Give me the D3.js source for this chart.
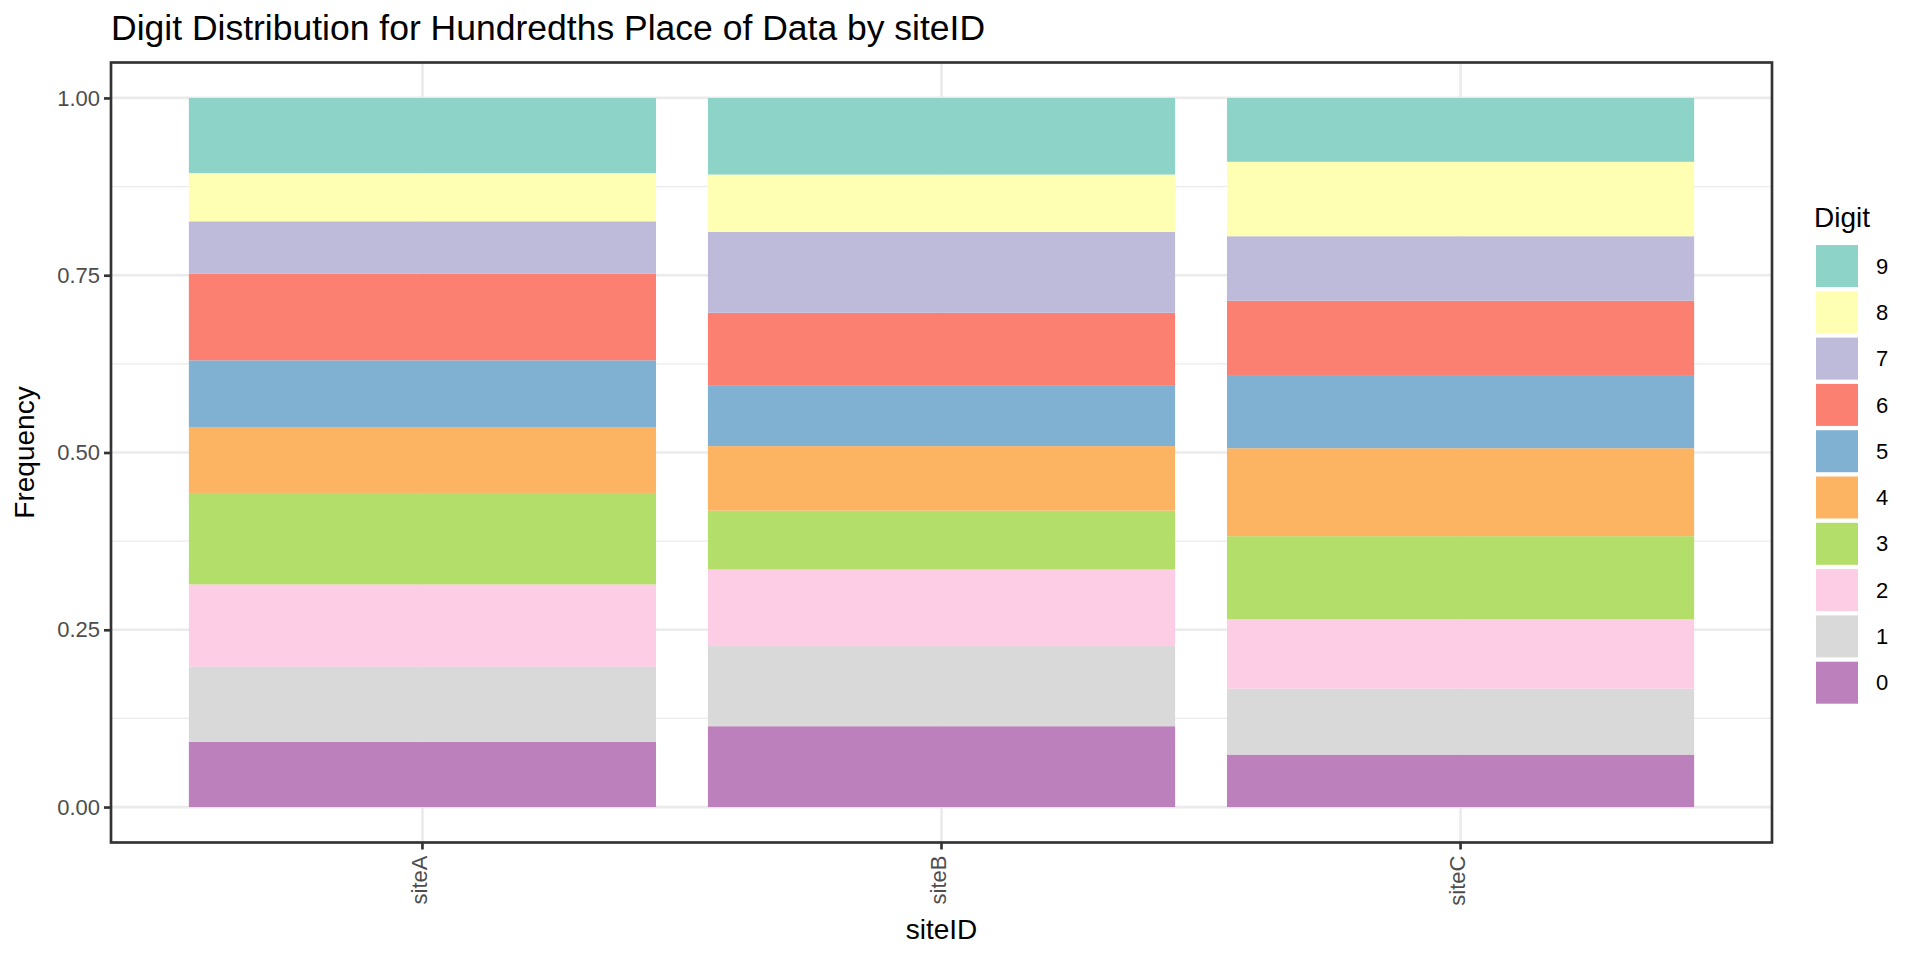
<!DOCTYPE html>
<html>
<head>
<meta charset="utf-8">
<script src="https://cdn.jsdelivr.net/npm/d3@7"></script>
<style>
  body { margin: 0; background: #fff; }
  svg { font-family: "Liberation Sans", Arial, sans-serif; }
</style>
</head>
<body>
<svg id="chart"></svg>
<script>
// data (share of each hundredths digit per site)
const sites = ["siteA", "siteB", "siteC"];
const digits = ["0", "1", "2", "3", "4", "5", "6", "7", "8", "9"];
const siteA = [0.092, 0.106, 0.116, 0.129, 0.093, 0.094, 0.122, 0.074, 0.068, 0.106];
const siteB = [0.114, 0.113, 0.108, 0.083, 0.091, 0.086, 0.102, 0.114, 0.081, 0.108];
const siteC = [0.074, 0.093, 0.098, 0.117, 0.124, 0.102, 0.106, 0.091, 0.105, 0.090];
const yTicks = [0, 0.25, 0.5, 0.75, 1];
const yMinor = [0.125, 0.375, 0.625, 0.875];

const W = 1920, H = 960;
const margin = { top: 62.5, right: 148, bottom: 117.5, left: 111 };

const svg = d3.select("#chart").attr("width", W).attr("height", H);

const rows = sites.map((s, i) => {
  const vals = [siteA, siteB, siteC][i];
  const row = { site: s };
  digits.forEach((d, j) => row[d] = vals[j]);
  return row;
});
const series = d3.stack().keys(digits)(rows);

const x = d3.scaleBand()
  .domain(sites)
  .range([margin.left, W - margin.right])
  .paddingInner(0.1)
  .paddingOuter(0.15);

const y = d3.scaleLinear()
  .domain([-0.05, 1.05])
  .range([H - margin.bottom, margin.top]);

const color = d => d3.schemeSet3[9 - (+d)];

// grid
const grid = svg.append("g");
grid.selectAll(".minor").data(yMinor).join("line")
  .attr("x1", margin.left).attr("x2", W - margin.right)
  .attr("y1", d => y(d)).attr("y2", d => y(d))
  .attr("stroke", "#ebebeb").attr("stroke-width", 1.33);
grid.selectAll(".major").data(yTicks).join("line")
  .attr("x1", margin.left).attr("x2", W - margin.right)
  .attr("y1", d => y(d)).attr("y2", d => y(d))
  .attr("stroke", "#ebebeb").attr("stroke-width", 2.67);
grid.selectAll(".vmajor").data(sites).join("line")
  .attr("x1", d => x(d) + x.bandwidth() / 2).attr("x2", d => x(d) + x.bandwidth() / 2)
  .attr("y1", margin.top).attr("y2", H - margin.bottom)
  .attr("stroke", "#ebebeb").attr("stroke-width", 2.67);

// bars
svg.append("g").selectAll("g").data(series).join("g")
  .attr("fill", s => color(s.key))
  .selectAll("rect").data(s => s).join("rect")
  .attr("x", d => x(d.data.site))
  .attr("width", x.bandwidth())
  .attr("y", d => y(d[1]))
  .attr("height", d => y(d[0]) - y(d[1]));

// panel border
svg.append("rect")
  .attr("x", margin.left).attr("y", margin.top)
  .attr("width", W - margin.left - margin.right)
  .attr("height", H - margin.top - margin.bottom)
  .attr("fill", "none").attr("stroke", "#333333").attr("stroke-width", 2.67);

// axes
const yAxis = svg.append("g")
  .attr("transform", `translate(${margin.left},0)`)
  .call(d3.axisLeft(y).tickValues(yTicks).tickFormat(d3.format(".2f")).tickSize(7).tickPadding(4));
const xAxis = svg.append("g")
  .attr("transform", `translate(0,${H - margin.bottom})`)
  .call(d3.axisBottom(x).tickSize(7).tickPadding(4));

[yAxis, xAxis].forEach(a => {
  a.select(".domain").remove();
  a.selectAll(".tick line").attr("stroke", "#333333").attr("stroke-width", 2.67);
  a.selectAll(".tick text").attr("fill", "#4d4d4d").style("font-size", "22px")
    .style("font-family", "'Liberation Sans', Arial, sans-serif");
});
xAxis.selectAll(".tick text")
  .attr("transform", "rotate(-90)")
  .attr("text-anchor", "end")
  .attr("x", -13).attr("y", 0).attr("dy", "0.2em");

// titles
svg.append("text")
  .attr("x", margin.left).attr("y", 40)
  .style("font-size", "35.5px")
  .text("Digit Distribution for Hundredths Place of Data by siteID");

svg.append("text")
  .attr("x", (margin.left + W - margin.right) / 2).attr("y", 939)
  .attr("text-anchor", "middle")
  .style("font-size", "28px")
  .text("siteID");

svg.append("text")
  .attr("transform", `translate(34,${(margin.top + H - margin.bottom) / 2}) rotate(-90)`)
  .attr("text-anchor", "middle")
  .style("font-size", "28px")
  .text("Frequency");

// legend
const legend = svg.append("g").attr("transform", "translate(1814,0)");
legend.append("text")
  .attr("x", 0).attr("y", 227)
  .style("font-size", "28px")
  .text("Digit");
const keys = digits.slice().reverse();
const item = legend.selectAll(".key").data(keys).join("g")
  .attr("transform", (d, i) => `translate(2,${245 + i * 46.3})`);
item.append("rect")
  .attr("width", 42).attr("height", 42)
  .attr("fill", d => color(d));
item.append("text")
  .attr("x", 60).attr("y", 21).attr("dy", "0.35em")
  .style("font-size", "22px")
  .text(d => d);
</script>
</body>
</html>
